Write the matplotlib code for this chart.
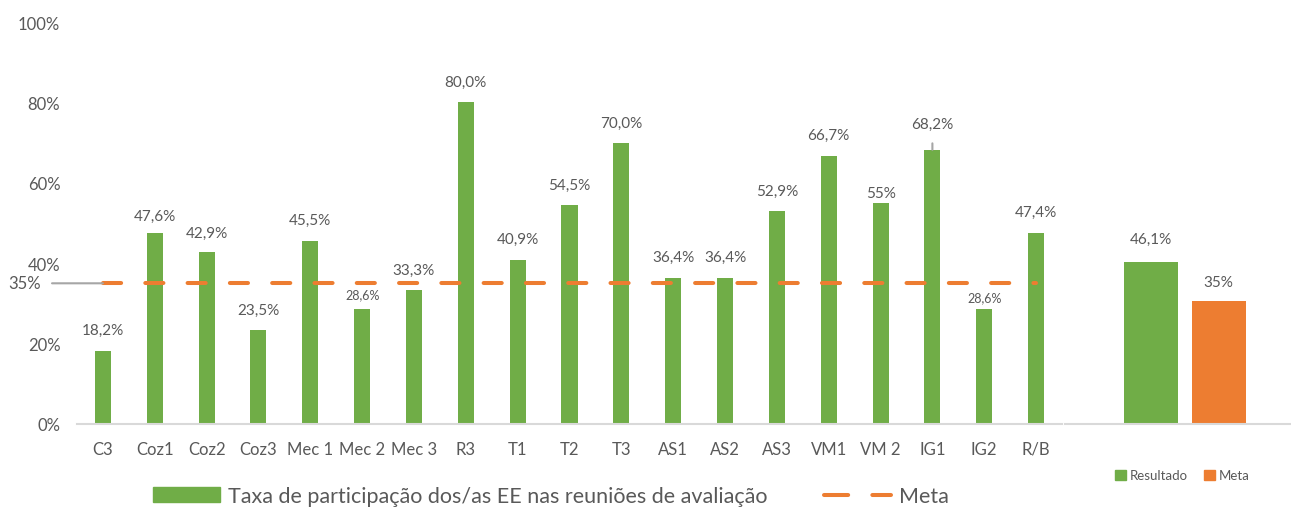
import matplotlib.pyplot as plt
from matplotlib.lines import Line2D
from matplotlib.patches import Patch

plt.rcParams["font.family"] = ["Lato", "DejaVu Sans"]

categories = ["C3", "Coz1", "Coz2", "Coz3", "Mec 1", "Mec 2", "Mec 3", "R3", "T1", "T2",
              "T3", "AS1", "AS2", "AS3", "VM1", "VM 2", "IG1", "IG2", "R/B"]
taxa = [18.2, 47.6, 42.9, 23.5, 45.5, 28.6, 33.3, 80.0, 40.9, 54.5,
        70.0, 36.4, 36.4, 52.9, 66.7, 55.0, 68.2, 28.6, 47.4]
taxa_labels = ["18,2%", "47,6%", "42,9%", "23,5%", "45,5%", "28,6%", "33,3%", "80,0%", "40,9%", "54,5%",
               "70,0%", "36,4%", "36,4%", "52,9%", "66,7%", "55%", "68,2%", "28,6%", "47,4%"]
meta = 35
resultado = 46.1
resumo_labels = ["46,1%", "35%"]

GREEN = "#70AD47"
ORANGE = "#ED7D31"
TXT = "#595959"
AXIS = "#D9D9D9"

# label placement (pixels above bar top) and font size
label_offsets = [21, 17, 19, 20, 21, 15, 20, 21, 21, 20, 20, 21, 21, 20, 21, 10, 26, 12, 22]
label_sizes = [11] * len(categories)
label_sizes[5] = 9
label_sizes[17] = 9

fig = plt.figure(figsize=(12.91, 5.10), dpi=100)
ax = fig.add_axes([77 / 1291, 85 / 510, 985 / 1291, 402 / 510])
x = list(range(len(categories)))
ax.bar(x, taxa, width=0.31, color=GREEN, zorder=2)
ax.plot(x, [meta] * len(x), color=ORANGE, linewidth=2.9, dashes=(4.5, 6),
        dash_capstyle="round", zorder=3)
ax.set_xlim(-0.5, len(x) - 0.5)
ax.set_ylim(0, 100)
ax.set_yticks(range(0, 101, 20))
ax.set_yticklabels([f"{t}%" for t in range(0, 101, 20)])
ax.set_xticks(x)
ax.set_xticklabels(categories)
ax.tick_params(length=0, labelsize=12, labelcolor=TXT)
ax.tick_params(axis="y", pad=12)
ax.tick_params(axis="x", pad=12)
for s in ["top", "right", "left"]:
    ax.spines[s].set_visible(False)
ax.spines["bottom"].set_color(AXIS)
ax.spines["bottom"].set_linewidth(1.5)

for i, (v, lab) in enumerate(zip(taxa, taxa_labels)):
    if i == 16:
        ax.annotate(lab, xy=(i, v), xytext=(0, label_offsets[i]), textcoords="offset pixels",
                    ha="center", va="center", fontsize=label_sizes[i], color=TXT,
                    arrowprops=dict(arrowstyle="-", color="#A6A6A6", lw=1.5,
                                    shrinkA=7, shrinkB=0))
    else:
        ax.annotate(lab, xy=(i, v), xytext=(0, label_offsets[i]), textcoords="offset pixels",
                    ha="center", va="center", fontsize=label_sizes[i], color=TXT)

# 35% marker on the left
ax.annotate("35%", xy=(0, meta), xytext=(-62, 0), textcoords="offset pixels",
            ha="right", va="center", fontsize=12, color=TXT, annotation_clip=False,
            arrowprops=dict(arrowstyle="-", color="#A6A6A6", lw=1.5, shrinkA=6, shrinkB=0))

# summary panel
ax2 = fig.add_axes([1065 / 1291, 85 / 510, 226 / 1291, 402 / 510])
ax2.bar([-0.3], [resultado], width=0.48, color=GREEN)
ax2.bar([0.3], [meta], width=0.48, color=ORANGE)
ax2.set_xlim(-1.06, 0.94)
ax2.set_ylim(0, 114.4)
ax2.set_xticks([])
ax2.set_yticks([])
for s in ["top", "right", "left"]:
    ax2.spines[s].set_visible(False)
ax2.spines["bottom"].set_color(AXIS)
ax2.spines["bottom"].set_linewidth(1.5)
for xx, v, lab, off in zip([-0.3, 0.3], [resultado, meta], resumo_labels, [23, 19]):
    ax2.annotate(lab, xy=(xx, v), xytext=(0, off), textcoords="offset pixels",
                 ha="center", va="center", fontsize=11, color=TXT)
ax2.legend([Patch(color=GREEN), Patch(color=ORANGE)], ["Resultado", "Meta"],
           loc="center", bbox_to_anchor=(0.52, -0.128), ncol=2, frameon=False,
           fontsize=9.5, labelcolor=TXT, handlelength=0.85, handleheight=0.85,
           handletextpad=0.3, columnspacing=1.2)

# main legend
handles = [Patch(color=GREEN),
           Line2D([], [], color=ORANGE, linewidth=2.9, dashes=(6, 6), dash_capstyle="round")]
fig.legend(handles, ["Taxa de participação dos/as EE nas reuniões de avaliação", "Meta"],
           loc="center", bbox_to_anchor=(551 / 1291, 13 / 510), ncol=2, frameon=False,
           fontsize=15.5, labelcolor=TXT, handlelength=3.1, handleheight=0.65,
           handletextpad=0.4, columnspacing=2.6)

fig.savefig("out.png", dpi=100)
